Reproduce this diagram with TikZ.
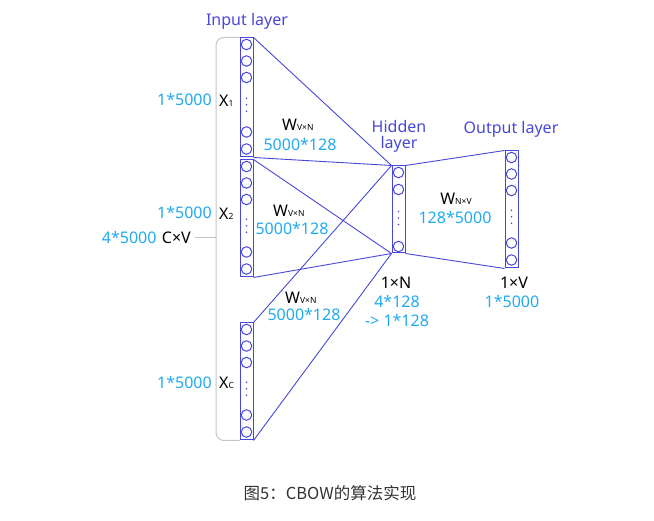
\documentclass[tikz,border=0pt]{standalone}
\usepackage{fontspec}
\setmainfont{Noto Sans}
\newfontfamily\cjk{Noto Sans CJK SC}
\usetikzlibrary{calc,positioning}
\usepackage{xcolor}
\definecolor{netblue}{HTML}{4848D8}
\definecolor{numcyan}{HTML}{22AAEE}
\definecolor{brgray}{HTML}{C4C4C4}
\definecolor{capgray}{HTML}{333333}
\newcommand{\lowidx}[1]{{\fontsize{8.5}{8.5}\selectfont #1}}

\begin{document}
\begin{tikzpicture}[
  x=1pt, y=-1pt,
  col/.style={draw=netblue, line width=1pt, minimum width=13pt, inner sep=0pt},
  unit/.style={circle, draw=netblue, fill=white, line width=1pt, minimum size=10.5pt, inner sep=0pt},
  link/.style={draw=netblue, line width=0.9pt},
  layername/.style={text=netblue, font=\fontsize{16}{19}\selectfont, align=center},
  dimlabel/.style={text=numcyan, font=\fontsize{16}{19}\selectfont, inner sep=0pt, align=center},
  symlabel/.style={text=black, font=\fontsize{16}{19}\selectfont, inner sep=0pt},
  bracket/.style={draw=brgray, line width=1pt, rounded corners=8pt},
]
\useasboundingbox (0,0) rectangle (654,521);

\node[col, minimum height=119pt] (x1box) at (246.5, 97.5) {};
\node[col, minimum height=117pt] (x2box) at (246.5, 218.5) {};
\node[col, minimum height=117pt] (xcbox) at (246.5, 381.5) {};
\node[col, minimum height=87pt] (hbox) at (398.5, 209.5) {};
\node[col, minimum height=117pt] (obox) at (511.5, 209.5) {};

\draw[link] (x1box.north east) -- (hbox.north west);
\draw[link] (x1box.south east) -- (hbox.north west);
\draw[link] (x2box.north east) -- (hbox.south west);
\draw[link] (x2box.south east) -- (hbox.south west);
\draw[link] (xcbox.north east) -- (hbox.north west);
\draw[link] (xcbox.south east) -- (hbox.south west);
\draw[link] (hbox.north east) -- (obox.north west);
\draw[link] (hbox.south east) -- (obox.south west);

\foreach \b in {x1box,x2box,xcbox,obox}{
  \foreach \k/\d in {1/7,2/23.5,3/40}
    \node[unit] (\b-u\k) at ($(\b.north)+(0,\d)$) {};
  \foreach \k/\d in {4/-25.5,5/-8.5}
    \node[unit] (\b-u\k) at ($(\b.south)+(0,\d)$) {};
  \coordinate (\b-mid) at ($(\b-u3)!0.5!(\b-u4)$);
  \foreach \j in {-6.5,0,6.5}
    \fill[netblue] ($(\b-mid)+(0,\j)$) circle (0.8pt);
}
\node[unit] (hbox-u1) at ($(hbox.north)+(0,7)$) {};
\node[unit] (hbox-u2) at ($(hbox.north)+(0,24)$) {};
\node[unit] (hbox-u3) at ($(hbox.south)+(0,-7)$) {};
\coordinate (hbox-mid) at ($(hbox-u2)!0.5!(hbox-u3)$);
\foreach \j in {-6.5,0,6.5}
  \fill[netblue] ($(hbox-mid)+(0,\j)$) circle (0.8pt);

\coordinate (brk) at (216,238);
\draw[bracket] (x1box.north west) -| (brk) |- (xcbox.south west);
\node[symlabel, anchor=east] (cxv) at (191,238) {C×V};
\node[dimlabel, left=5pt of cxv] (allin) {4*5000};
\draw[bracket] ([xshift=4pt]cxv.east) -- (brk);

\node[layername] (inlayer) at (247,21) {Input layer};
\node[layername] (hidlayer) at (399,136) {Hidden\\[-3pt]layer};
\node[layername] (outlayer) at (511,129) {Output layer};

\node[dimlabel, anchor=east] (x1dim) at (212,100) {1*5000};
\node[symlabel, anchor=west] (x1name) at (219,101) {X\lowidx{1}};
\node[symlabel, anchor=west] (w1) at (282,125) {W\lowidx{V×N}};
\node[dimlabel] (w1dim) at (300,145) {5000*128};

\node[dimlabel, anchor=east] (x2dim) at (212,213) {1*5000};
\node[symlabel, anchor=west] (x2name) at (219,214) {X\lowidx{2}};
\node[symlabel, anchor=west] (w2) at (273,211) {W\lowidx{V×N}};
\node[dimlabel] (w2dim) at (292,229) {5000*128};

\node[dimlabel, anchor=east] (xcdim) at (212,383) {1*5000};
\node[symlabel, anchor=west] (xcname) at (219,383) {X\lowidx{C}};
\node[symlabel, anchor=west] (wc) at (285,298) {W\lowidx{V×N}};
\node[dimlabel] (wcdim) at (304,315) {5000*128};

\node[symlabel] (wo) at (456,199) {W\lowidx{N×V}};
\node[dimlabel] (wodim) at (455,218) {128*5000};

\node[symlabel] (hname) at (396,283) {1×N};
\node[dimlabel] (hdim) at (397,311) {4*128\\-> 1*128};

\node[symlabel] (oname) at (514,283) {1×V};
\node[dimlabel] (odim) at (512,302) {1*5000};

\node[font=\cjk\fontsize{16.5}{19}\selectfont, text=capgray] (caption) at (330,493) {图5：CBOW的算法实现};
\end{tikzpicture}
\end{document}
